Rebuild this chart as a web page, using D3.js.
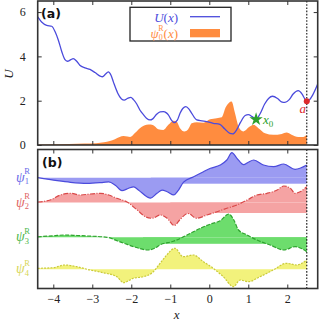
<!DOCTYPE html>
<html>
<head>
<meta charset="utf-8">
<script src="https://cdn.jsdelivr.net/npm/d3@7"></script>
<style>
  body { margin: 0; background: #fff; }
  svg { display: block; }
  .tick text { font-family: "Liberation Serif", serif; font-size: 12px; fill: #222; }
  .math { font-family: "Liberation Serif", serif; font-style: italic; }
</style>
</head>
<body>
<div id="chart"></div>
<script>
// ---- data ----
var xTicks = [-4, -3, -2, -1, 0, 1, 2];
var uTicks = [0, 2, 4, 6];
var aPos = 2.5;
var x0Pos = 1.2;

var uCurve = [[-4.4,5.78],[-4.3,5.55],[-4.17,5.40],[-4.04,5.36],[-3.95,5.1],[-3.87,4.73],[-3.78,4.2],[-3.7,3.85],
  [-3.64,3.78],[-3.55,3.85],[-3.49,3.9],[-3.4,3.78],[-3.32,3.6],[-3.19,3.48],[-3.06,3.41],[-2.93,3.27],[-2.8,3.11],
  [-2.74,3.08],[-2.66,3.2],[-2.59,3.3],[-2.52,3.15],[-2.46,2.85],[-2.35,2.35],[-2.25,2.08],[-2.18,2.03],[-2.1,2.1],
  [-2.01,2.15],[-1.95,2.06],[-1.86,1.85],[-1.78,1.58],[-1.68,1.35],[-1.61,1.21],[-1.52,1.13],[-1.45,1.18],[-1.35,1.39],
  [-1.26,1.5],[-1.18,1.51],[-1.1,1.45],[-1.05,1.36],[-0.98,1.15],[-0.9,1.01],[-0.82,1.12],[-0.75,1.43],[-0.68,1.65],
  [-0.6,1.73],[-0.52,1.62],[-0.45,1.43],[-0.32,1.13],[-0.19,1.09],[-0.07,1.06],[0.1,0.98],[0.27,0.93],[0.4,0.72],
  [0.53,0.52],[0.6,0.5],[0.7,0.68],[0.8,1.02],[0.92,1.33],[1.0,1.37],[1.1,1.28],[1.2,1.16],[1.3,1.4],[1.42,1.85],
  [1.52,2.1],[1.62,2.2],[1.75,2.1],[1.85,1.95],[1.94,1.92],[2.05,2.05],[2.15,2.3],[2.28,2.45],[2.38,2.3],[2.46,2.05],
  [2.5,1.98],[2.56,2.02],[2.65,2.25],[2.78,2.75]];

var psi0 = [[-4.4,0.02],[-4.0,0.03],[-3.6,0.05],[-3.2,0.07],[-2.9,0.08],[-2.7,0.12],[-2.55,0.18],[-2.42,0.26],[-2.3,0.36],
  [-2.2,0.41],[-2.1,0.38],[-2.03,0.36],[-1.9,0.55],[-1.78,0.76],[-1.61,0.91],[-1.5,0.93],[-1.4,0.85],[-1.31,0.71],
  [-1.18,0.68],[-1.05,0.91],[-0.92,1.1],[-0.84,1.06],[-0.75,0.76],[-0.64,0.61],[-0.54,0.71],[-0.45,0.98],[-0.32,1.03],
  [-0.15,1.01],[0.02,1.16],[0.19,1.21],[0.32,1.25],[0.42,1.7],[0.5,1.9],[0.57,1.96],[0.66,1.43],[0.75,0.83],[0.87,0.61],
  [1.04,0.83],[1.13,0.91],[1.26,0.76],[1.43,0.53],[1.64,0.46],[1.86,0.5],[1.98,0.56],[2.11,0.46],[2.28,0.36],[2.41,0.36],
  [2.5,0.46]];

var psi1 = [[-4.4,0],[-3.9,-0.3],[-3.56,-0.46],[-3.13,-0.56],[-2.71,-0.46],[-2.58,-0.42],[-2.41,-0.75],[-2.24,-1.3],
  [-2.07,-1.06],[-1.94,-0.92],[-1.81,-1.25],[-1.6,-1.9],[-1.51,-2.05],[-1.34,-1.56],[-1.21,-1.25],[-1.08,-1.4],
  [-0.91,-1.72],[-0.8,-1.3],[-0.66,-0.45],[-0.4,0.1],[-0.15,0.6],[0.03,0.94],[0.28,1.27],[0.45,1.77],[0.58,2.5],
  [0.71,1.94],[0.88,1.3],[1.0,1.55],[1.14,1.77],[1.39,1.27],[1.65,1.1],[1.91,1.37],[2.2,0.84],[2.5,1.27]];

var psi2 = [[-4.4,0.05],[-4.08,0.25],[-3.82,0.75],[-3.56,0.92],[-3.31,0.75],[-3.05,0.85],[-2.79,0.92],[-2.58,0.75],
  [-2.37,0.42],[-2.11,0.05],[-1.85,-0.75],[-1.64,-1.42],[-1.47,-1.58],[-1.26,-1.25],[-1.08,-1.58],[-0.9,-2.3],
  [-0.75,-1.7],[-0.55,-1.1],[-0.32,-1.58],[-0.06,-1.25],[0.2,-0.92],[0.45,-0.58],[0.71,-0.25],[0.97,0.25],[1.22,0.75],
  [1.48,0.92],[1.74,1.25],[1.91,1.65],[2.08,1.42],[2.2,0.92],[2.33,1.08],[2.5,1.58]];

var psi3 = [[-4.4,0.05],[-4.0,0.15],[-3.7,0.23],[-3.4,0.18],[-3.13,0.13],[-2.62,0],[-2.37,-0.34],[-2.15,-0.65],
  [-1.94,-0.94],[-1.56,-1.27],[-1.4,-1.1],[-1.26,-0.75],[-0.92,-0.4],[-0.57,0.23],[-0.23,0.9],[0.03,1.33],[0.28,1.66],
  [0.5,2.33],[0.63,1.73],[0.75,0.73],[0.97,0.23],[1.22,-0.27],[1.56,-0.77],[1.91,-1.27],[2.2,-0.94],[2.5,-1.44]];

var psi4 = [[-4.4,0.1],[-4.0,0.16],[-3.7,0.43],[-3.4,0.26],[-3.06,-0.07],[-2.72,-0.34],[-2.37,-0.74],[-2.2,-1.34],
  [-1.95,-0.9],[-1.69,-0.74],[-1.45,-0.3],[-1.3,0.4],[-1.12,1.3],[-0.88,2.1],[-0.67,1.26],[-0.41,1.43],[-0.15,0.76],
  [0.1,0.1],[0.36,-0.74],[0.62,-1.74],[0.79,-1.07],[1.0,-1.24],[1.3,-0.74],[1.64,-0.07],[1.98,0.6],[2.24,0.43],
  [2.5,0.93]];

var psiSeries = [psi1, psi2, psi3, psi4];
var psiIndex = ["1", "2", "3", "4"];
var psiOffsets = [11.08, 8.6, 5.12, 1.92];   // vertical shift of each curve (panel b units)
var bandStart = [-1.5, -1.0, -1.7, null];     // strip under the zero line, from here up to a
var bandDepth = [0.6, 1.05, 0.65, 0];

// ---- styles ----
var lineCol = ["#4b4bdc", "#d94848", "#2fa32f", "#caca3a"];
var fillCol = ["#9b9bf2", "#f5a3a3", "#6ddd6d", "#f2f27c"];
var labelCol = ["#6a6ae8", "#e06464", "#4cb84c", "#d6d658"];
var dashes = [null, "5,1.5,1,1.5", "4,1.5", "2,1.2"];
var uColor = "#4b4bdc", orange = "#ff8c3f";

var svgWidth = 319, svgHeight = 321;
var left = 37.7, right = 317.7;

var svg = d3.select("#chart").append("svg")
  .attr("width", svgWidth)
  .attr("height", svgHeight);

var x = d3.scaleLinear().domain([-4.4, 2.78]).range([left, right]);
var yA = d3.scaleLinear().domain([0, 6.5]).range([145, 1]);
var yB = d3.scaleLinear().domain([0, 13.9]).range([288.5, 149.5]);

var defs = svg.append("defs");
defs.append("clipPath").attr("id", "clipA").append("rect")
  .attr("x", left).attr("y", 1).attr("width", right - left).attr("height", 144);
defs.append("clipPath").attr("id", "clipB").append("rect")
  .attr("x", left).attr("y", 149.5).attr("width", right - left).attr("height", 139);

// ---------- panel (a) ----------
var gA = svg.append("g").attr("clip-path", "url(#clipA)");

gA.append("path")
  .datum(psi0)
  .attr("fill", orange)
  .attr("d", d3.area()
    .x(d => x(d[0]))
    .y0(yA(0))
    .y1(d => yA(d[1]))
    .curve(d3.curveMonotoneX));

gA.append("path")
  .datum(uCurve)
  .attr("fill", "none")
  .attr("stroke", uColor)
  .attr("stroke-width", 1.3)
  .attr("d", d3.line()
    .x(d => x(d[0]))
    .y(d => yA(d[1]))
    .curve(d3.curveMonotoneX));

// dotted line at a
svg.append("line")
  .attr("x1", x(aPos)).attr("x2", x(aPos))
  .attr("y1", yA(6.5)).attr("y2", yA(0))
  .attr("stroke", "#111").attr("stroke-width", 1.1).attr("stroke-dasharray", "1.6,1.6");

// axes for panel a (inward ticks on all four sides)
svg.append("g")
  .attr("transform", `translate(0, ${yA(0)})`)
  .call(d3.axisBottom(x).tickValues(xTicks).tickSize(-4).tickFormat(""));
svg.append("g")
  .attr("transform", `translate(0, ${yA(6.5)})`)
  .call(d3.axisTop(x).tickValues(xTicks).tickSize(-4).tickFormat(""));
svg.append("g")
  .attr("transform", `translate(${left}, 0)`)
  .call(d3.axisLeft(yA).tickValues(uTicks).tickSize(-4).tickPadding(12).tickFormat(d3.format("d")));
svg.append("g")
  .attr("transform", `translate(${right}, 0)`)
  .call(d3.axisRight(yA).tickValues(uTicks).tickSize(-4).tickFormat(""));

// x0 star and a point
var uAt = function(xv) {
  var i = uCurve.findIndex(d => d[0] >= xv);
  return uCurve[i][1];
};
svg.append("path")
  .attr("d", d3.symbol().type(d3.symbolStar).size(55))
  .attr("transform", `translate(${x(x0Pos)}, ${yA(uAt(x0Pos))})`)
  .attr("fill", "#2ca02c");
var x0Label = svg.append("text").attr("class", "math")
  .attr("x", x(x0Pos) + 7).attr("y", yA(uAt(x0Pos)) + 5)
  .attr("fill", "#2ca02c").attr("font-size", 13);
x0Label.append("tspan").text("x");
x0Label.append("tspan").attr("dy", 3).attr("font-size", 9).attr("font-style", "normal").text("0");

svg.append("circle")
  .attr("cx", x(aPos)).attr("cy", yA(uAt(aPos)))
  .attr("r", 3).attr("fill", "#dd2b2b");
svg.append("text").attr("class", "math")
  .attr("x", x(aPos) - 4).attr("y", yA(uAt(aPos)) + 12)
  .attr("text-anchor", "middle")
  .attr("fill", "#dd2b2b").attr("font-size", 13).text("a");

// legend
var lg = svg.append("g");
lg.append("rect")
  .attr("x", 130).attr("y", 7.3).attr("width", 101).attr("height", 33.7)
  .attr("fill", "#fff").attr("stroke", "#222").attr("stroke-width", 1.3);
var t1 = lg.append("text").attr("x", 178).attr("y", 22).attr("text-anchor", "end")
  .attr("font-family", "Liberation Serif, serif").attr("font-size", 13).attr("fill", uColor);
t1.append("tspan").attr("font-style", "italic").text("U");
t1.append("tspan").text("(");
t1.append("tspan").attr("font-style", "italic").text("x");
t1.append("tspan").text(")");
lg.append("line").attr("x1", 190).attr("x2", 220).attr("y1", 16.7).attr("y2", 16.7)
  .attr("stroke", uColor).attr("stroke-width", 1.3);
var t2 = lg.append("text").attr("x", 178).attr("y", 37.5).attr("text-anchor", "end")
  .attr("font-family", "Liberation Serif, serif").attr("font-size", 13).attr("fill", orange);
t2.append("tspan").attr("font-style", "italic").text("ψ");
t2.append("tspan").attr("font-size", 8).attr("dy", 2.5).text("0");
t2.append("tspan").attr("font-size", 8).attr("dx", -4.5).attr("dy", -9).text("R");
t2.append("tspan").attr("dy", 6.5).text("(");
t2.append("tspan").attr("font-style", "italic").text("x");
t2.append("tspan").text(")");
lg.append("rect").attr("x", 190).attr("y", 29).attr("width", 30).attr("height", 8.3)
  .attr("fill", orange);

svg.append("text")
  .attr("x", 41).attr("y", 18)
  .attr("font-family", "DejaVu Sans, sans-serif").attr("font-weight", "bold")
  .attr("font-size", 12.5).attr("fill", "#111").text("(a)");

svg.append("text").attr("class", "math")
  .attr("transform", `translate(13, ${yA(3.2)}) rotate(-90)`)
  .attr("text-anchor", "middle").attr("font-size", 13).attr("fill", "#222").text("U");

// ---------- panel (b) ----------
var gB = svg.append("g").attr("clip-path", "url(#clipB)");

psiSeries.forEach(function(series, i) {
  var off = psiOffsets[i];
  var grp = gB.append("g");
  if (bandStart[i] !== null) {
    grp.append("rect")
      .attr("x", x(bandStart[i]))
      .attr("y", yB(off))
      .attr("width", x(aPos) - x(bandStart[i]))
      .attr("height", yB(off - bandDepth[i]) - yB(off))
      .attr("fill", fillCol[i]);
  }
  grp.append("path")
    .datum(series)
    .attr("fill", fillCol[i])
    .attr("d", d3.area()
      .x(d => x(d[0]))
      .y0(yB(off))
      .y1(d => yB(off + d[1]))
      .curve(d3.curveMonotoneX));
});

psiSeries.forEach(function(series, i) {
  var off = psiOffsets[i];
  gB.append("path")
    .datum(series)
    .attr("fill", "none")
    .attr("stroke", lineCol[i])
    .attr("stroke-width", 1.2)
    .attr("stroke-dasharray", dashes[i])
    .attr("d", d3.line()
      .x(d => x(d[0]))
      .y(d => yB(off + d[1]))
      .curve(d3.curveMonotoneX));

  var lab = svg.append("text")
    .attr("x", 16).attr("y", yB(off) + 4)
    .attr("font-family", "Liberation Serif, serif")
    .attr("font-size", 14).attr("fill", labelCol[i]);
  lab.append("tspan").attr("font-style", "italic").text("ψ");
  lab.append("tspan").attr("font-size", 8.5).attr("dy", 2.5).text(psiIndex[i]);
  lab.append("tspan").attr("font-size", 8.5).attr("dx", -4.8).attr("dy", -10).text("R");
});

svg.append("line")
  .attr("x1", x(aPos)).attr("x2", x(aPos))
  .attr("y1", yB(13.9)).attr("y2", yB(0))
  .attr("stroke", "#111").attr("stroke-width", 1.1).attr("stroke-dasharray", "1.6,1.6");

svg.append("g")
  .attr("transform", `translate(0, ${yB(0)})`)
  .call(d3.axisBottom(x).tickValues(xTicks).tickSize(-4).tickPadding(6)
    .tickFormat(d => d < 0 ? "\u2212" + Math.abs(d) : d));
svg.append("g")
  .attr("transform", `translate(0, ${yB(13.9)})`)
  .call(d3.axisTop(x).tickValues(xTicks).tickSize(-4).tickFormat(""));

svg.append("text")
  .attr("x", 42).attr("y", 167)
  .attr("font-family", "DejaVu Sans, sans-serif").attr("font-weight", "bold")
  .attr("font-size", 12.5).attr("fill", "#111").text("(b)");

svg.append("text").attr("class", "math")
  .attr("x", (left + right) / 2 - 1).attr("y", 318.5)
  .attr("text-anchor", "middle").attr("font-size", 13).attr("fill", "#222").text("x");

// frames
svg.selectAll(".domain").remove();
svg.selectAll(".tick line").attr("stroke", "#333").attr("stroke-width", 1);
svg.append("rect")
  .attr("x", left).attr("y", yA(6.5)).attr("width", right - left).attr("height", yA(0) - yA(6.5))
  .attr("fill", "none").attr("stroke", "#333").attr("stroke-width", 1.6);
svg.append("rect")
  .attr("x", left).attr("y", yB(13.9)).attr("width", right - left).attr("height", yB(0) - yB(13.9))
  .attr("fill", "none").attr("stroke", "#333").attr("stroke-width", 1.6);
</script>
</body>
</html>
